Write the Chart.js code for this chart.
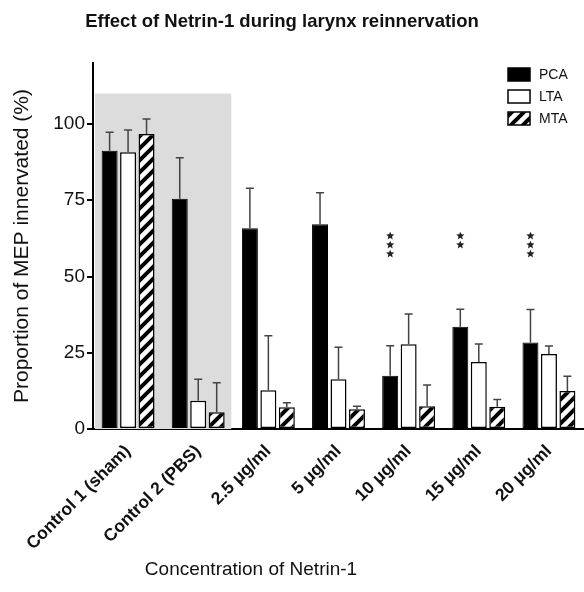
<!DOCTYPE html>
<html>
<head>
<meta charset="utf-8">
<script src="https://cdn.jsdelivr.net/npm/chart.js@4.4.1/dist/chart.umd.min.js"></script>
<style>
  html, body { margin: 0; padding: 0; background: #fff; }
  #wrap { width: 584px; height: 592px; position: relative; }
</style>
</head>
<body>
<div id="wrap"><canvas id="chart"></canvas></div>
<script>
// values (% of MEP innervated, upper SEM whisker)
const categories = ['Control 1 (sham)', 'Control 2 (PBS)', '2.5 μg/ml', '5 μg/ml', '10 μg/ml', '15 μg/ml', '20 μg/ml'];
const pca    = [91.2, 75.5, 65.8, 67.1, 17.5, 33.5, 28.4];
const pcaErr = [6.1, 13.4, 13.1, 10.4, 9.8, 5.8, 10.8];
const lta    = [90.7, 9.3, 12.7, 16.3, 27.8, 22.0, 24.6];
const ltaErr = [7.3, 7.0, 17.9, 10.5, 9.9, 5.9, 2.6];
const mta    = [96.7, 5.5, 7.1, 6.5, 7.5, 7.3, 12.5];
const mtaErr = [4.9, 9.7, 1.5, 1.0, 6.9, 2.4, 4.8];
const stars  = [0, 0, 0, 0, 3, 2, 3];       // significance marks over PCA
const yTicks = [0, 25, 50, 75, 100];
const controlGroups = 2;                      // shaded control region
const controlTop = 110;
const starLevel = 63.3;

const FONT = 'Arial, "Liberation Sans", Helvetica, sans-serif';
const canvas = document.getElementById('chart');
const ctx = canvas.getContext('2d');

function hatch(){
  const s = 12;
  const p = document.createElement('canvas');
  p.width = p.height = s;
  const g = p.getContext('2d');
  g.fillStyle = '#fff'; g.fillRect(0, 0, s, s);
  g.strokeStyle = '#000'; g.lineWidth = 4;
  g.beginPath();
  g.moveTo(-1, s + 1); g.lineTo(s + 1, -1);
  g.moveTo(-4, 4); g.lineTo(4, -4);
  g.moveTo(s - 4, s + 4); g.lineTo(s + 4, s - 4);
  g.stroke();
  return ctx.createPattern(p, 'repeat');
}
const hatchFill = hatch();

function star(c, x, y, r){
  c.beginPath();
  for(let i = 0; i < 10; i++){
    const a = -Math.PI / 2 + i * Math.PI / 5;
    const rr = i % 2 ? r * 0.45 : r;
    c.lineTo(x + rr * Math.cos(a), y + rr * Math.sin(a));
  }
  c.closePath(); c.fill();
}

const decor = {
  id: 'decor',
  beforeDatasetsDraw(chart){
    const {ctx: c, scales: {x, y}} = chart;
    const half = (x.getPixelForValue(1) - x.getPixelForValue(0)) / 2;
    const x1 = x.getPixelForValue(controlGroups - 1) + half - 2;
    c.save();
    c.fillStyle = '#dcdcdc';
    c.fillRect(x.left + 2, y.getPixelForValue(controlTop), x1 - x.left - 2, y.getPixelForValue(0) - y.getPixelForValue(controlTop));
    c.restore();
  },
  afterDatasetsDraw(chart){
    const {ctx: c, scales: {x, y}} = chart;
    c.save();
    // error bars
    c.strokeStyle = '#444'; c.lineWidth = 1.5;
    chart.data.datasets.forEach((ds, di) => {
      const meta = chart.getDatasetMeta(di);
      meta.data.forEach((bar, i) => {
        const top = y.getPixelForValue(ds.data[i] + ds.err[i]);
        c.beginPath();
        c.moveTo(bar.x, bar.y); c.lineTo(bar.x, top);
        c.moveTo(bar.x - 4, top); c.lineTo(bar.x + 4, top);
        c.stroke();
      });
    });
    // asterisks
    c.fillStyle = '#222';
    const pm = chart.getDatasetMeta(0);
    stars.forEach((n, i) => {
      for(let k = 0; k < n; k++) star(c, pm.data[i].x, y.getPixelForValue(starLevel) + k * 9, 4.3);
    });
    // legend
    c.font = '14px ' + FONT; c.textBaseline = 'middle'; c.textAlign = 'left';
    chart.data.datasets.forEach((ds, i) => {
      const ty = 68 + i * 22;
      c.fillStyle = ds.backgroundColor;
      c.fillRect(508, ty, 22, 13);
      c.strokeStyle = '#000'; c.lineWidth = 1.5;
      c.strokeRect(508, ty, 22, 13);
      c.fillStyle = '#111';
      c.fillText(ds.label, 539, ty + 7);
    });
    // titles
    c.fillStyle = '#111'; c.textAlign = 'center';
    c.font = 'bold 18.5px ' + FONT;
    c.fillText('Effect of Netrin-1 during larynx reinnervation', 282, 22);
    c.font = '19px ' + FONT;
    c.fillText('Concentration of Netrin-1', 251, 570);
    c.restore();
  }
};

const common = { categoryPercentage: 0.79, barPercentage: 0.865, borderColor: '#000', borderSkipped: false };

new Chart(canvas, {
  type: 'bar',
  data: {
    labels: categories,
    datasets: [
      Object.assign({ label: 'PCA', data: pca, err: pcaErr, backgroundColor: '#000', borderWidth: 1 }, common),
      Object.assign({ label: 'LTA', data: lta, err: ltaErr, backgroundColor: '#fff', borderWidth: 1.5 }, common),
      Object.assign({ label: 'MTA', data: mta, err: mtaErr, backgroundColor: hatchFill, borderWidth: 1.5 }, common)
    ]
  },
  options: {
    responsive: true,
    maintainAspectRatio: false,
    animation: false,
    layout: { padding: { top: 63, left: 0, right: 0, bottom: 0 } },
    plugins: { legend: { display: false }, tooltip: { enabled: false }, title: { display: false } },
    scales: {
      x: {
        afterFit(s){ s.height = 163; },
        grid: { display: true, drawOnChartArea: false, drawTicks: false },
        border: { color: '#000', width: 2 },
        ticks: { color: '#111', font: { family: FONT, size: 17.5, weight: 'bold' }, minRotation: 45, maxRotation: 45, padding: 12, autoSkip: false }
      },
      y: {
        min: 0, max: 120,
        afterFit(s){ s.width = 93; },
        afterBuildTicks(s){ s.ticks = yTicks.map(v => ({ value: v })); },
        grid: { drawOnChartArea: false, drawTicks: true, tickLength: 6, color: '#000', lineWidth: 2 },
        border: { color: '#000', width: 2 },
        ticks: { color: '#111', font: { family: FONT, size: 19 }, padding: 2 },
        title: { display: true, text: 'Proportion of MEP innervated (%)', color: '#111', font: { family: FONT, size: 21 }, padding: { top: 10, bottom: 0 } }
      }
    }
  },
  plugins: [decor]
});
</script>
</body>
</html>
